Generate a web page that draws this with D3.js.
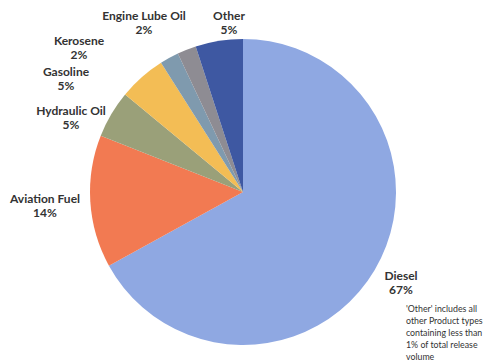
<!DOCTYPE html>
<html>
<head>
<meta charset="utf-8">
<script src="https://cdn.jsdelivr.net/npm/d3@7/dist/d3.min.js"></script>
<style>
  html, body { margin: 0; padding: 0; background: #fff; }
  svg { display: block; }
  .lbl { font-family: Lato, "Open Sans", sans-serif; font-weight: bold; font-size: 12px; fill: #333; }
  .note { font-family: Lato, "Open Sans", sans-serif; font-size: 8.8px; fill: #333; }
</style>
</head>
<body>
<div id="chart"></div>
<script>
// Data (clockwise from 12 o'clock)
const categories = ["Diesel", "Aviation Fuel", "Hydraulic Oil", "Gasoline", "Kerosene", "Engine Lube Oil", "Other"];
const values = [67, 14, 5, 5, 2, 2, 5];
const pctLabels = ["67%", "14%", "5%", "5%", "2%", "2%", "5%"];
const colors = ["#8fa8e2", "#f27a52", "#9aa079", "#f3bd55", "#7f9aae", "#8e8c93", "#3e58a2"];
const noteLines = ["'Other' includes all", "other Product types", "containing less than", "1% of total release", "volume"];

const W = 489, H = 363;
const cx = 243, cy = 192, r = 153;

const svg = d3.select("#chart").append("svg").attr("width", W).attr("height", H);

const data = categories.map((c, i) => ({ name: c, value: values[i], pct: pctLabels[i], color: colors[i] }));

const pie = d3.pie().value(d => d.value).sort(null);
const arc = d3.arc().innerRadius(0).outerRadius(r);

const g = svg.append("g").attr("transform", `translate(${cx},${cy})`);
g.selectAll("path").data(pie(data)).join("path")
  .attr("d", arc)
  .attr("fill", d => d.data.color);

// Label anchor positions (centre of text block, first line baseline)
const labelPos = {
  "Diesel": [401, 280],
  "Aviation Fuel": [45, 203],
  "Hydraulic Oil": [71, 115],
  "Gasoline": [66, 76],
  "Kerosene": [79, 45],
  "Engine Lube Oil": [144, 20],
  "Other": [229, 20]
};

data.forEach(d => {
  const [x, y] = labelPos[d.name];
  const t = svg.append("text").attr("class", "lbl").attr("text-anchor", "middle");
  t.append("tspan").attr("x", x).attr("y", y).text(d.name);
  t.append("tspan").attr("x", x).attr("y", y + 14).text(d.pct);
});

const note = svg.append("text").attr("class", "note");
noteLines.forEach((l, i) => {
  note.append("tspan").attr("x", 406).attr("y", 312 + i * 12).text(l);
});
</script>
</body>
</html>
